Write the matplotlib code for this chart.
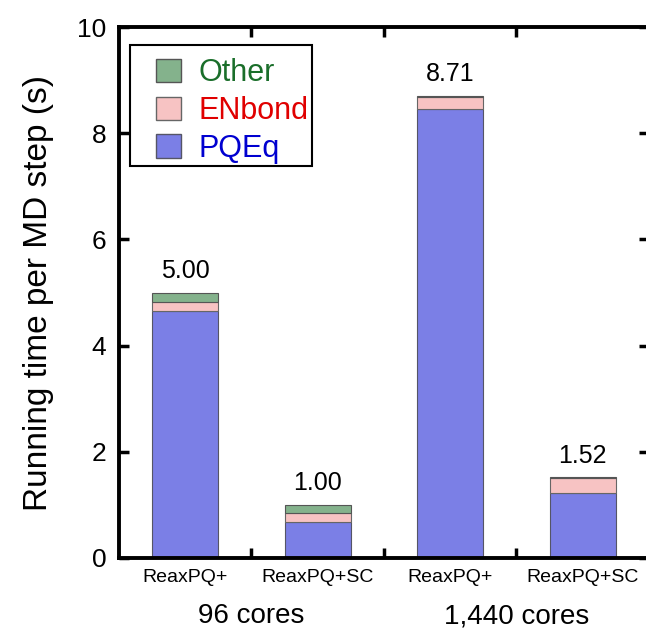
import matplotlib
matplotlib.use('Agg')
import matplotlib.pyplot as plt
from matplotlib.patches import Patch, Rectangle
import numpy as np

plt.rcParams['font.family'] = ['Liberation Sans', 'DejaVu Sans']

labels = ['ReaxPQ+', 'ReaxPQ+SC', 'ReaxPQ+', 'ReaxPQ+SC']
groups = ['96 cores', '1,440 cores']
pqeq = [4.65, 0.68, 8.45, 1.22]
enbond = [0.17, 0.17, 0.24, 0.28]
other = [0.18, 0.15, 0.02, 0.02]
totals = [5.00, 1.00, 8.71, 1.52]

c_pqeq = '#7b7fe6'
c_en = '#f7c3c3'
c_other = '#84b28c'

fig = plt.figure(figsize=(6.46, 6.30), dpi=100)
ax = fig.add_axes([0.1842, 0.1143, 0.8204, 0.8428])

x = np.arange(len(labels))
w = 0.5
ax.bar(x, pqeq, w, color=c_pqeq, edgecolor='#555566', linewidth=0.8)
ax.bar(x, enbond, w, bottom=pqeq, color=c_en, edgecolor='#666666', linewidth=0.8)
ax.bar(x, other, w, bottom=np.add(pqeq, enbond), color=c_other, edgecolor='#555555', linewidth=0.8)

for xi, t in zip(x, totals):
    ax.annotate('%.2f' % t, (xi, t), xytext=(0, 7), textcoords='offset points',
                ha='center', va='bottom', fontsize=18)

ax.set_xlim(-0.5, 3.5)
ax.set_ylim(0, 10)
ax.set_yticks([0, 2, 4, 6, 8, 10])
ax.set_xticks(x)
ax.set_xticklabels(labels, fontsize=14)
ax.set_xticks([0.5, 1.5, 2.5], minor=True)
ax.tick_params(axis='x', which='major', length=0, pad=8)
ax.tick_params(axis='x', which='minor', direction='in', length=7, width=2.5, top=True, bottom=True)
ax.tick_params(axis='y', which='major', direction='in', length=7, width=2.5, labelsize=19, right=True, pad=9)
for s in ax.spines.values():
    s.set_linewidth(2.8)

ax.set_ylabel('Running time per MD step (s)', fontsize=24)
ax.yaxis.set_label_coords(-0.123, 0.5)

for gx, g in zip([0.5, 2.5], groups):
    ax.text(gx, -0.085, g, transform=ax.get_xaxis_transform(), ha='center', va='top', fontsize=20)

# legend frame drawn separately (wider side padding than top/bottom)
ax.add_patch(Rectangle((0.021, 0.738), 0.343, 0.228, transform=ax.transAxes,
                       facecolor='white', edgecolor='black', linewidth=1.5, zorder=4))
handles = [Patch(facecolor=c_other, edgecolor='#555555'),
           Patch(facecolor=c_en, edgecolor='#666666'),
           Patch(facecolor=c_pqeq, edgecolor='#555566')]
leg = ax.legend(handles, ['Other', 'ENbond', 'PQEq'], loc='upper left', bbox_to_anchor=(0.07, 0.941),
                fontsize=22, frameon=False,
                handlelength=0.8, handleheight=0.8, handletextpad=0.6, labelspacing=0.25,
                borderpad=0, borderaxespad=0)
leg.set_zorder(5)
for txt, col in zip(leg.get_texts(), ['#1a6e2a', '#e00000', '#0000d0']):
    txt.set_color(col)

fig.savefig('out.png', dpi=100)
